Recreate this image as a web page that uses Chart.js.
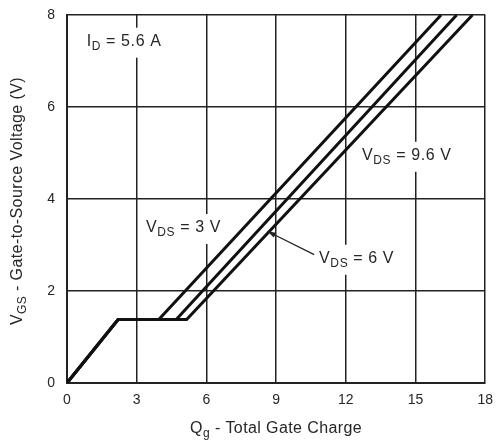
<!DOCTYPE html>
<html>
<head>
<meta charset="utf-8">
<script src="https://cdn.jsdelivr.net/npm/chart.js@4"></script>
<style>
  html, body { margin: 0; padding: 0; background: #fff; }
  #wrap { width: 502px; height: 443px; }
</style>
</head>
<body>
<div id="wrap"><canvas id="gateChart"></canvas></div>
<script>
// gate charge curves (Qg nC, VGS V)
var vds3Q  = [0, 2.2, 3.95, 16.1];
var vds3V  = [0, 1.38, 1.38, 8];
var vds6Q  = [0, 2.2, 4.7, 16.77];
var vds6V  = [0, 1.38, 1.38, 8];
var vds96Q = [0, 2.2, 5.15, 17.45];
var vds96V = [0, 1.38, 1.38, 8];

var xTicks = [0, 3, 6, 9, 12, 15, 18];
var yTicks = [0, 2, 4, 6, 8];

// text labels: [main, subscript, rest, x, y]
var notes = [
    ['I', 'D', ' = 5.6 A', 0.85, 7.42],
    ['V', 'DS', ' = 9.6 V', 12.7, 4.94],
    ['V', 'DS', ' = 3 V', 3.4, 3.37],
    ['V', 'DS', ' = 6 V', 10.85, 2.7]
];
var arrowFrom = [10.64, 2.79];
var arrowTo = [8.62, 3.3];

var FONT = '"Liberation Sans", Arial, sans-serif';
var TXT = '#262626';
var LBL = 16;

function pts(qs, vs) {
    return qs.map(function (q, i) { return { x: q, y: vs[i] }; });
}

function line(label, qs, vs) {
    return {
        label: label,
        data: pts(qs, vs),
        showLine: true,
        borderColor: '#111',
        borderWidth: 3,
        pointRadius: 0,
        fill: false,
        tension: 0
    };
}

function textWidth(ctx, main, sub, rest, size) {
    ctx.font = size + 'px ' + FONT;
    var w = ctx.measureText(main).width + ctx.measureText(rest).width;
    ctx.font = Math.round(size * 0.78) + 'px ' + FONT;
    return w + ctx.measureText(sub).width;
}

// draw "V" + subscript "DS" + rest, left aligned at x, middle at y
function subText(ctx, main, sub, rest, x, y, size, bg) {
    var small = Math.round(size * 0.78);
    ctx.font = size + 'px ' + FONT;
    var w1 = ctx.measureText(main).width;
    ctx.font = small + 'px ' + FONT;
    var w2 = ctx.measureText(sub).width;
    if (bg) {
        var w = textWidth(ctx, main, sub, rest, size);
        ctx.fillStyle = '#fff';
        ctx.fillRect(x - 4, y - size / 2 - 6, w + 8, size + 14);
    }
    ctx.fillStyle = TXT;
    ctx.textBaseline = 'middle';
    ctx.textAlign = 'left';
    ctx.font = size + 'px ' + FONT;
    ctx.fillText(main, x, y);
    ctx.font = small + 'px ' + FONT;
    ctx.fillText(sub, x + w1, y + size * 0.3);
    ctx.font = size + 'px ' + FONT;
    ctx.fillText(rest, x + w1 + w2, y);
}

var labelsPlugin = {
    id: 'labelsPlugin',
    beforeDatasetsDraw: function (chart) {
        var ctx = chart.ctx;
        var xs = chart.scales.x, ys = chart.scales.y;
        ctx.save();
        ctx.letterSpacing = '0.6px';
        notes.forEach(function (n) {
            subText(ctx, n[0], n[1], n[2], xs.getPixelForValue(n[3]), ys.getPixelForValue(n[4]), LBL, true);
        });
        ctx.restore();
    },
    afterDatasetsDraw: function (chart) {
        var ctx = chart.ctx;
        var xs = chart.scales.x, ys = chart.scales.y;
        var ca = chart.chartArea;
        ctx.save();
        // arrow to the 6 V curve
        var x0 = xs.getPixelForValue(arrowFrom[0]), y0 = ys.getPixelForValue(arrowFrom[1]);
        var x1 = xs.getPixelForValue(arrowTo[0]), y1 = ys.getPixelForValue(arrowTo[1]);
        ctx.strokeStyle = '#222';
        ctx.fillStyle = '#222';
        ctx.lineWidth = 1.2;
        ctx.beginPath();
        ctx.moveTo(x0, y0);
        ctx.lineTo(x1, y1);
        ctx.stroke();
        var a = Math.atan2(y1 - y0, x1 - x0);
        ctx.beginPath();
        ctx.moveTo(x1, y1);
        ctx.lineTo(x1 - 9 * Math.cos(a - 0.3), y1 - 9 * Math.sin(a - 0.3));
        ctx.lineTo(x1 - 9 * Math.cos(a + 0.3), y1 - 9 * Math.sin(a + 0.3));
        ctx.closePath();
        ctx.fill();

        // axis titles with subscripts
        ctx.letterSpacing = '0.4px';
        var w = textWidth(ctx, 'Q', 'g', ' - Total Gate Charge', LBL);
        subText(ctx, 'Q', 'g', ' - Total Gate Charge', (ca.left + ca.right) / 2 - w / 2, 429, LBL, false);

        ctx.translate(18, (ca.top + ca.bottom) / 2 + 2);
        ctx.rotate(-Math.PI / 2);
        var w2 = textWidth(ctx, 'V', 'GS', ' - Gate-to-Source Voltage (V)', LBL);
        subText(ctx, 'V', 'GS', ' - Gate-to-Source Voltage (V)', -w2 / 2, 0, LBL, false);
        ctx.restore();
    }
};

var ctx = document.getElementById('gateChart').getContext('2d');
var myChart = new Chart(ctx, {
    type: 'scatter',
    data: {
        datasets: [
            line('VDS = 3 V', vds3Q, vds3V),
            line('VDS = 6 V', vds6Q, vds6V),
            line('VDS = 9.6 V', vds96Q, vds96V)
        ]
    },
    options: {
        responsive: true,
        maintainAspectRatio: false,
        animation: false,
        layout: { padding: { left: 0, top: 15, right: 13, bottom: 0 } },
        plugins: { legend: { display: false }, tooltip: { enabled: false } },
        scales: {
            x: {
                type: 'linear',
                min: 0, max: 18,
                afterBuildTicks: function (s) { s.ticks = xTicks.map(function (v) { return { value: v }; }); },
                afterFit: function (s) { s.height = 60; },
                grid: { color: '#222', lineWidth: 1.5, drawTicks: false },
                border: { color: '#222', width: 2 },
                ticks: { color: TXT, padding: 9, font: { family: FONT, size: 14 } }
            },
            y: {
                type: 'linear',
                min: 0, max: 8,
                afterBuildTicks: function (s) { s.ticks = yTicks.map(function (v) { return { value: v }; }); },
                afterFit: function (s) { s.width = 67; },
                grid: { color: '#222', lineWidth: 1.5, drawTicks: true, tickLength: 11, tickColor: 'rgba(0,0,0,0)' },
                border: { color: '#222', width: 2 },
                ticks: { color: TXT, padding: 1, font: { family: FONT, size: 14 } }
            }
        }
    },
    plugins: [labelsPlugin]
});
</script>
</body>
</html>
